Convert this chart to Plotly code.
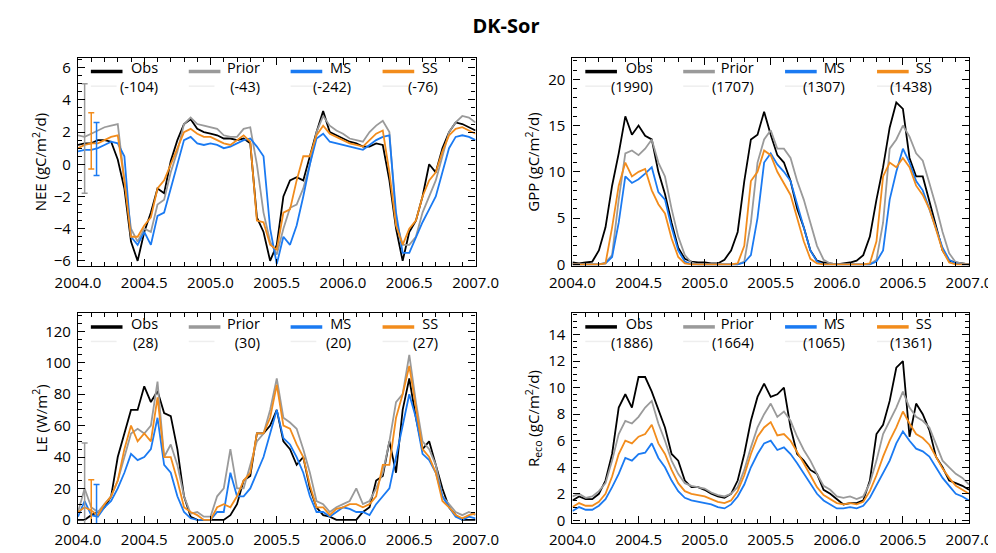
import plotly.graph_objects as go

# ---------------- data ----------------
years = [2004.00, 2004.05, 2004.10, 2004.15, 2004.20, 2004.25, 2004.30, 2004.35, 2004.40, 2004.45,
         2004.50, 2004.55, 2004.60, 2004.65, 2004.70, 2004.75, 2004.80, 2004.85, 2004.90, 2004.95,
         2005.00, 2005.05, 2005.10, 2005.15, 2005.20, 2005.25, 2005.30, 2005.35, 2005.40, 2005.45,
         2005.50, 2005.55, 2005.60, 2005.65, 2005.70, 2005.75, 2005.80, 2005.85, 2005.90, 2005.95,
         2006.00, 2006.05, 2006.10, 2006.15, 2006.20, 2006.25, 2006.30, 2006.35, 2006.40, 2006.45,
         2006.50, 2006.55, 2006.60, 2006.65, 2006.70, 2006.75, 2006.80, 2006.85, 2006.90, 2006.95,
         2007.00]

series_names = ["Obs", "Prior", "MS", "SS"]

# NEE (gC/m2/d)
nee_obs = [1.2, 1.3, 1.3, 1.5, 1.5, 1.4, 0.3, -1.5, -4.8, -6.0,
           -4.2, -3.0, -1.5, -1.8, 0.2, 1.5, 2.5, 2.8, 2.2, 2.0,
           1.9, 1.8, 1.6, 1.6, 1.5, 1.6, 1.3, -3.3, -4.2, -6.0,
           -5.0, -2.0, -1.0, -0.8, -1.0, 0.5, 2.0, 3.3, 2.0, 1.8,
           1.6, 1.4, 1.3, 1.1, 1.1, 1.3, 1.2, -1.0, -4.0, -6.0,
           -4.2, -3.5, -2.0, 0.0, -0.5, 1.0, 2.0, 2.6, 2.5, 2.3,
           2.1]
nee_prior = [1.8, 1.7, 1.9, 2.1, 2.3, 2.4, 2.5, -1.0, -4.0, -4.8,
             -4.0, -4.2, -2.5, -2.2, -0.5, 0.8, 2.5, 2.9, 2.5, 2.4,
             2.3, 2.2, 1.8, 1.7, 1.7, 2.2, 2.3, 0.0, -3.0, -4.8,
             -5.6, -4.0, -2.7, -2.5, -1.5, 0.0, 2.0, 3.0, 2.4, 2.1,
             1.9, 1.6, 1.5, 1.4, 2.0, 2.4, 2.7, 2.0, -3.5, -5.0,
             -5.0, -4.5, -3.0, -2.0, -1.0, 0.5, 2.0, 2.6, 3.0, 2.9,
             2.6]
nee_ms = [0.8, 0.9, 0.9, 1.0, 1.2, 1.4, 1.3, 0.5, -4.5, -5.0,
          -4.2, -5.0, -3.2, -3.0, -1.5, 0.0, 1.5, 1.7, 1.3, 1.2,
          1.3, 1.2, 1.0, 1.1, 1.3, 1.5, 1.6, 1.1, 0.5, -4.0,
          -6.2, -4.5, -5.0, -3.8, -2.0, 0.0, 1.6, 1.9, 1.4, 1.3,
          1.2, 1.1, 1.0, 0.9, 1.2, 1.5, 1.7, 1.8, -3.0, -5.5,
          -5.5, -4.5, -3.6, -2.8, -2.0, -0.5, 1.0, 1.7, 1.8, 1.7,
          1.5]
nee_ss = [1.0, 1.2, 1.3, 1.3, 1.5, 1.7, 1.8, -1.0, -4.5, -4.5,
          -3.8, -3.3, -1.5, -1.0, 0.0, 1.0, 2.0, 2.2, 1.9, 1.7,
          1.7, 1.5, 1.3, 1.2, 1.5, 1.8, 1.4, -3.5, -3.6, -5.0,
          -5.3, -3.0, -2.8, -1.0, 0.5, 0.5, 1.8, 2.4, 1.9, 1.7,
          1.5, 1.3, 1.2, 1.1, 1.5, 1.9, 2.1, -0.5, -3.8, -5.0,
          -4.0, -3.5, -2.0, -1.0, -0.5, 0.8, 1.8, 2.2, 2.3, 2.1,
          1.9]
nee_totals = ["(-104)", "(-43)", "(-242)", "(-76)"]

# GPP (gC/m2/d)
gpp_obs = [0.2, 0.1, 0.2, 0.3, 1.5, 4.0, 8.5, 12.0, 16.0, 14.0,
           15.0, 13.9, 13.5, 10.0, 7.6, 4.5, 1.8, 0.6, 0.3, 0.2,
           0.2, 0.1, 0.1, 0.5, 1.5, 3.5, 9.0, 13.5, 14.0, 16.5,
           14.0, 11.8, 11.0, 9.0, 6.0, 4.0, 1.5, 0.4, 0.2, 0.1,
           0.0, 0.1, 0.2, 0.4, 1.0, 3.0, 7.0, 10.5, 14.8, 17.5,
           16.8, 11.5, 9.5, 9.5, 6.8, 4.0, 1.5, 0.4, 0.2, 0.1,
           0.0]
gpp_prior = [0.0, 0.0, 0.0, 0.0, 0.0, 0.2, 1.0, 7.0, 12.0, 12.3,
             11.8, 12.5, 13.5, 11.0, 9.5, 6.0, 3.0, 1.0, 0.2, 0.0,
             0.0, 0.0, 0.0, 0.0, 0.0, 0.0, 0.3, 4.5, 11.0, 13.5,
             14.5, 12.5, 12.5, 11.5, 9.0, 7.0, 4.5, 2.0, 0.5, 0.1,
             0.0, 0.0, 0.0, 0.0, 0.0, 0.0, 0.5, 4.5, 12.5, 13.5,
             15.0, 13.8, 12.0, 11.2, 8.8, 6.3, 3.5, 1.2, 0.2, 0.1,
             0.0]
gpp_ms = [0.0, 0.0, 0.0, 0.0, 0.0, 0.1, 0.8, 4.5, 9.5, 8.8,
          9.2, 9.8, 10.5, 7.8, 7.0, 4.0, 1.5, 0.3, 0.0, 0.0,
          0.0, 0.0, 0.0, 0.0, 0.0, 0.0, 0.2, 1.0, 5.0, 11.0,
          12.0, 10.8, 10.0, 9.0, 6.5, 4.0, 1.5, 0.3, 0.0, 0.0,
          0.0, 0.0, 0.0, 0.0, 0.0, 0.0, 0.3, 1.5, 7.0, 10.0,
          12.5, 11.0, 9.0, 8.0, 6.0, 4.0, 1.8, 0.5, 0.1, 0.0,
          0.0]
gpp_ss = [0.0, 0.0, 0.0, 0.0, 0.0, 0.1, 4.0, 8.5, 11.0, 9.5,
          10.0, 10.3, 8.0, 6.5, 5.5, 2.8, 0.8, 0.1, 0.0, 0.0,
          0.0, 0.0, 0.0, 0.0, 0.0, 0.1, 2.0, 9.0, 10.0, 12.3,
          11.8, 10.0, 8.8, 7.5, 5.0, 2.5, 0.6, 0.1, 0.0, 0.0,
          0.0, 0.0, 0.0, 0.0, 0.0, 0.1, 2.5, 9.5, 11.0, 10.5,
          11.5, 10.5, 8.5, 7.5, 6.0, 3.8, 1.5, 0.2, 0.0, 0.0,
          0.0]
gpp_totals = ["(1990)", "(1707)", "(1307)", "(1438)"]

# LE (W/m2)
le_obs = [0, 0, 3, 5, 8, 15, 40, 55, 70, 70,
          85, 75, 82, 68, 66, 45, 15, 2, 0, 0,
          0, 0, 0, 3, 10, 25, 28, 55, 55, 60,
          70, 50, 45, 35, 40, 20, 8, 3, 2, 0,
          0, 0, 0, 5, 8, 25, 28, 50, 30, 70,
          90, 65, 45, 50, 35, 20, 8, 3, 0, 0,
          0]
le_prior = [5, 20, 8, 5, 10, 15, 25, 40, 55, 58,
            55, 60, 88, 40, 48, 35, 15, 4, 5, 2,
            2, 15, 20, 45, 20, 20, 35, 50, 55, 70,
            90, 65, 62, 58, 45, 30, 12, 10, 5, 8,
            10, 12, 20, 10, 12, 20, 30, 50, 75, 80,
            105, 75, 50, 45, 35, 15, 10, 5, 3, 5,
            3]
le_ms = [2, 12, 3, 2, 8, 12, 20, 30, 42, 38,
         40, 45, 65, 35, 30, 15, 5, 1, 0, 0,
         0, 5, 5, 30, 15, 15, 20, 30, 40, 55,
         70, 52, 48, 40, 30, 15, 5, 5, 2, 5,
         8, 7, 5, 5, 3, 10, 15, 20, 40, 60,
         80, 65, 42, 38, 30, 15, 8, 2, 0, 2,
         1]
le_ss = [5, 8, 6, 3, 10, 15, 25, 45, 60, 50,
         55, 50, 78, 40, 40, 25, 8, 5, 3, 0,
         0, 8, 10, 8, 15, 25, 30, 55, 55, 65,
         86, 60, 58, 48, 40, 22, 8, 8, 3, 7,
         8, 10, 10, 8, 10, 15, 35, 35, 65, 80,
         98, 70, 45, 40, 30, 12, 8, 3, 1, 3,
         4]
le_totals = ["(28)", "(30)", "(20)", "(27)"]

# Reco (gC/m2/d)
reco_obs = [1.5, 1.8, 1.6, 1.6, 2.0, 3.0, 5.0, 8.5, 9.5, 8.5,
            10.8, 10.8, 9.7, 8.3, 7.0, 5.0, 4.5, 3.0, 2.5, 2.5,
            2.3, 2.0, 1.8, 1.7, 2.0, 3.0, 5.0, 7.5, 9.3, 10.3,
            9.3, 9.5, 10.0, 7.0, 5.0, 4.5, 3.8, 3.5, 2.3, 2.0,
            1.6, 1.2, 1.3, 1.3, 1.5, 3.0, 6.5, 7.2, 9.0, 11.5,
            12.0, 6.3, 8.8, 8.0, 6.8, 4.8, 4.0, 3.0, 2.8, 2.6,
            2.3]
reco_prior = [1.8, 2.0, 1.7, 1.8, 2.2, 2.8, 4.5, 6.5, 7.5, 7.3,
              7.8, 8.5, 9.0, 7.3, 6.0, 4.5, 3.5, 2.8, 2.6, 2.5,
              2.4, 2.1, 1.9, 1.8, 2.0, 2.5, 3.8, 5.5, 7.0, 8.0,
              8.8, 7.8, 8.2, 7.5, 6.3, 5.3, 4.5, 3.5, 2.6, 2.3,
              1.8, 1.7, 1.8, 1.6, 1.8, 2.8, 4.5, 6.5, 7.5, 8.5,
              9.7, 8.5, 7.8, 7.5, 7.0, 5.8, 4.5, 4.0, 3.5, 3.2,
              2.7]
reco_ms = [0.7, 1.0, 0.8, 0.8, 1.1, 1.6, 2.5, 3.5, 4.7, 4.5,
           5.0, 5.1, 5.8, 4.7, 4.0, 3.0, 2.2, 1.7, 1.5, 1.4,
           1.3, 1.2, 1.0, 0.9, 1.2, 1.8, 2.7, 4.0, 5.0, 5.8,
           6.0, 5.3, 5.5, 5.0, 4.3, 3.5, 2.8, 2.0, 1.5, 1.2,
           0.9, 0.9, 1.0, 0.9, 1.1, 1.7, 2.6, 3.5, 4.5, 5.8,
           6.7, 6.0, 5.4, 5.2, 4.8, 4.0, 3.2, 2.6, 2.0, 1.8,
           1.5]
reco_ss = [1.0, 1.3, 1.1, 1.1, 1.4, 2.0, 3.3, 5.0, 6.0, 5.8,
           6.3, 6.5, 7.2, 5.8, 5.0, 3.8, 2.8, 2.2, 2.0, 1.9,
           1.8, 1.6, 1.4, 1.3, 1.5, 2.2, 3.4, 5.0, 6.3, 7.0,
           7.4, 6.4, 6.5, 6.0, 5.2, 4.3, 3.4, 2.5, 1.9, 1.6,
           1.3, 1.2, 1.3, 1.2, 1.4, 2.2, 3.4, 4.8, 6.0, 7.0,
           8.2, 7.3, 6.5, 6.2, 5.7, 4.8, 3.9, 3.2, 2.6, 2.3,
           2.0]
reco_totals = ["(1886)", "(1664)", "(1065)", "(1361)"]

# uncertainty bars (Prior, SS, MS) drawn near the start of the record
err_x = [2004.05, 2004.10, 2004.14]
err_names = ["Prior", "SS", "MS"]
nee_err_lo = [-1.8, -0.3, -0.7]
nee_err_hi = [5.0, 3.2, 2.6]
le_err_lo = [-10.0, -10.0, -10.0]
le_err_hi = [49.0, 25.5, 22.5]

x_tick_vals = [2004.0, 2004.5, 2005.0, 2005.5, 2006.0, 2006.5, 2007.0]

# ---------------- styling ----------------
colors = {"Obs": "#000000", "Prior": "#9a9a9a", "MS": "#1a7af2", "SS": "#f28c1c"}
FONT = "Open Sans"

panels = [
    dict(ax="", series=[nee_obs, nee_prior, nee_ms, nee_ss], totals=nee_totals,
         title="NEE (gC/m<sup>2</sup>/d)", yrange=[-6.3, 6.6], dtick=2, minor=0.5,
         err=(nee_err_lo, nee_err_hi)),
    dict(ax="2", series=[gpp_obs, gpp_prior, gpp_ms, gpp_ss], totals=gpp_totals,
         title="GPP (gC/m<sup>2</sup>/d)", yrange=[-0.15, 22.3], dtick=5, minor=1, err=None),
    dict(ax="3", series=[le_obs, le_prior, le_ms, le_ss], totals=le_totals,
         title="LE (W/m<sup>2</sup>)", yrange=[-2.0, 131.5], dtick=20, minor=5,
         err=(le_err_lo, le_err_hi)),
    dict(ax="4", series=[reco_obs, reco_prior, reco_ms, reco_ss], totals=reco_totals,
         title="R<sub>eco</sub> (gC/m<sup>2</sup>/d)", yrange=[-0.2, 15.6], dtick=2, minor=0.5,
         err=None),
]

W, H = 996, 553
ML, MR, MT, MB = 70, 25, 50, 24
PW, PH = W - ML - MR, H - MT - MB
x_left = [0, 402 / PW]
x_right = [500 / PW, 1.0]
y_top = [(H - MB - 264) / PH, 1.0]
y_bot = [0.0, (H - MB - 313) / PH]
domains = {"": (x_left, y_top), "2": (x_right, y_top), "3": (x_left, y_bot), "4": (x_right, y_bot)}

fig = go.Figure()

for p in panels:
    a = p["ax"]
    xa, ya = "x" + a, "y" + a
    for name, vals in zip(series_names, p["series"]):
        fig.add_trace(go.Scatter(x=years, y=vals, mode="lines", name=name,
                                 line=dict(color=colors[name], width=1.8),
                                 xaxis=xa, yaxis=ya, showlegend=False))
    if p["err"] is not None:
        lo, hi = p["err"]
        for xv, nm, l, h in zip(err_x, err_names, lo, hi):
            fig.add_trace(go.Scatter(x=[xv], y=[(l + h) / 2], mode="markers",
                                     marker=dict(size=1, color=colors[nm], opacity=0),
                                     error_y=dict(type="data", array=[(h - l) / 2], visible=True,
                                                  color=colors[nm], thickness=1.5, width=3),
                                     xaxis=xa, yaxis=ya, showlegend=False))

axis_common = dict(showline=True, linecolor="black", linewidth=1.2, mirror="ticks",
                   ticks="inside", ticklen=7, tickwidth=1, tickcolor="black",
                   showgrid=False, zeroline=False,
                   tickfont=dict(family=FONT, size=15, color="black"))

layout = dict(width=W, height=H, margin=dict(l=ML, r=MR, t=MT, b=MB),
              paper_bgcolor="white", plot_bgcolor="white",
              title=dict(text="<b>DK-Sor</b>", x=0.5, xanchor="center", y=1 - 18 / H,
                         yanchor="middle", font=dict(family=FONT, size=20, color="black")),
              showlegend=False)

shapes, annotations = [], []
legend_line_start = [13, 112, 215, 308]
legend_text_right = [83, 186, 278, 366]

for p in panels:
    a = p["ax"]
    xd, yd = domains[a]
    layout["xaxis" + a] = dict(axis_common, domain=xd, anchor="y" + a, range=[2004.0, 2007.0],
                               tickvals=x_tick_vals, tickformat=".1f", ticklabelstandoff=3,
                               minor=dict(dtick=0.1, tick0=2004.0, ticks="inside", ticklen=4,
                                          tickcolor="black", tickwidth=1))
    layout["yaxis" + a] = dict(axis_common, domain=yd, anchor="x" + a, range=p["yrange"],
                               dtick=p["dtick"], tick0=0, ticklabelstandoff=3,
                               minor=dict(dtick=p["minor"], tick0=0, ticks="inside", ticklen=4,
                                          tickcolor="black", tickwidth=1))
    pw = (xd[1] - xd[0]) * PW
    ph = (yd[1] - yd[0]) * PH
    xr, yr = "x" + a + " domain", "y" + a + " domain"
    for i, name in enumerate(series_names):
        x0 = legend_line_start[i] / pw
        x1 = (legend_line_start[i] + 32) / pw
        shapes.append(dict(type="line", xref=xr, yref=yr, x0=x0, x1=x1,
                           y0=1 - 14 / ph, y1=1 - 14 / ph,
                           line=dict(color=colors[name], width=3.5)))
        shapes.append(dict(type="line", xref=xr, yref=yr, x0=x0, x1=(legend_line_start[i] + 26) / pw,
                           y0=1 - 29 / ph, y1=1 - 29 / ph,
                           line=dict(color="#eeeeee", width=1.5)))
        annotations.append(dict(xref=xr, yref=yr, x=legend_text_right[i] / pw, y=1 - 20 / ph,
                                text=name + "<br>" + p["totals"][i], align="right",
                                showarrow=False, xanchor="right", yanchor="middle",
                                font=dict(family=FONT, size=14.5, color="black")))
    # y-axis title
    title_x_px = 31 if a in ("", "3") else 530
    annotations.append(dict(xref="paper", yref="paper", x=(title_x_px - ML) / PW,
                            y=(yd[0] + yd[1]) / 2, text=p["title"], textangle=-90,
                            showarrow=False, xanchor="center", yanchor="middle",
                            font=dict(family=FONT, size=15, color="black")))

layout["shapes"] = shapes
layout["annotations"] = annotations
fig.update_layout(**layout)

fig.write_html("out.html")
